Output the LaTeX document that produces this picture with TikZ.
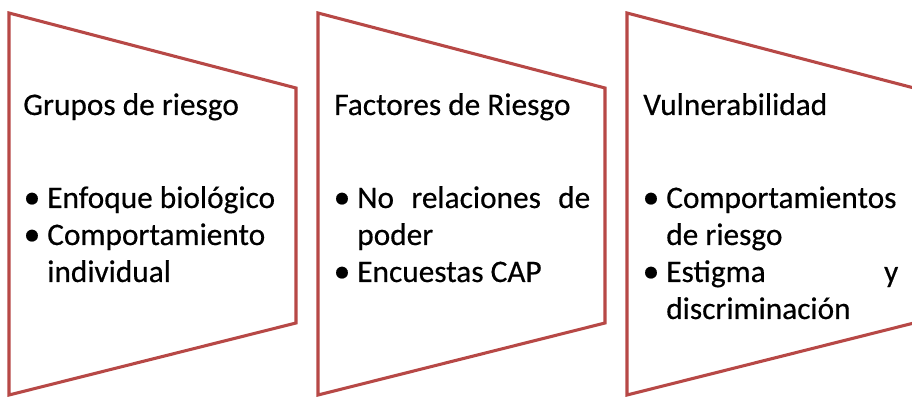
\documentclass[tikz,border=0pt]{standalone}
\usepackage{fontspec}
\setmainfont{Carlito}[FakeBold=0.4]
\definecolor{edgered}{RGB}{183,72,70}
\begin{document}
\begin{tikzpicture}[x=0.75pt,y=-0.75pt,
  frame/.style={draw=edgered, line width=2.3pt, fill=white, line join=miter},
  txt/.style={anchor=base west, inner sep=0pt, font=\fontsize{23.5}{28}\selectfont},
  bul/.style={anchor=base, inner sep=0pt, font=\fontsize{25}{28}\selectfont}]
\useasboundingbox (0,0) rectangle (912,398);
% frames
\draw[frame] (9,13) -- (296,88) -- (296,323) -- (9,395) -- cycle;
\draw[frame] (318,13) -- (605,88) -- (605,323) -- (318,395) -- cycle;
\draw[frame] (627,13) -- (914,88) -- (914,323) -- (627,395) -- cycle;
% column 1
\node[txt] (t1) at (23,115) {Grupos de riesgo};
\node[bul] (b11) at (32,208) {•};
\node[txt] (i11) at (47,208) {Enfoque biológico};
\node[bul] (b12) at (32,245) {•};
\node[txt] (i12) at (47,245) {Comportamiento};
\node[txt] (i13) at (47,282) {individual};
% column 2
\node[txt] (t2) at (334,115) {Factores de Riesgo};
\node[bul] (b21) at (342,208) {•};
\node[txt] (i21) at (357,208) {\hbox to 174.75pt{No\hfill relaciones\hfill de}};
\node[txt] (i22) at (357,245) {poder};
\node[bul] (b22) at (342,282) {•};
\node[txt] (i23) at (357,282) {Encuestas CAP};
% column 3
\node[txt] (t3) at (643,115) {Vulnerabilidad};
\node[bul] (b31) at (651,208) {•};
\node[txt] (i31) at (666,208) {Comportamientos};
\node[txt] (i32) at (666,245) {de riesgo};
\node[bul] (b32) at (651,282) {•};
\node[txt] (i33) at (666,282) {\hbox to 174pt{Estigma\hfill y}};
\node[txt] (i34) at (666,319) {discriminación};
\end{tikzpicture}
\end{document}
